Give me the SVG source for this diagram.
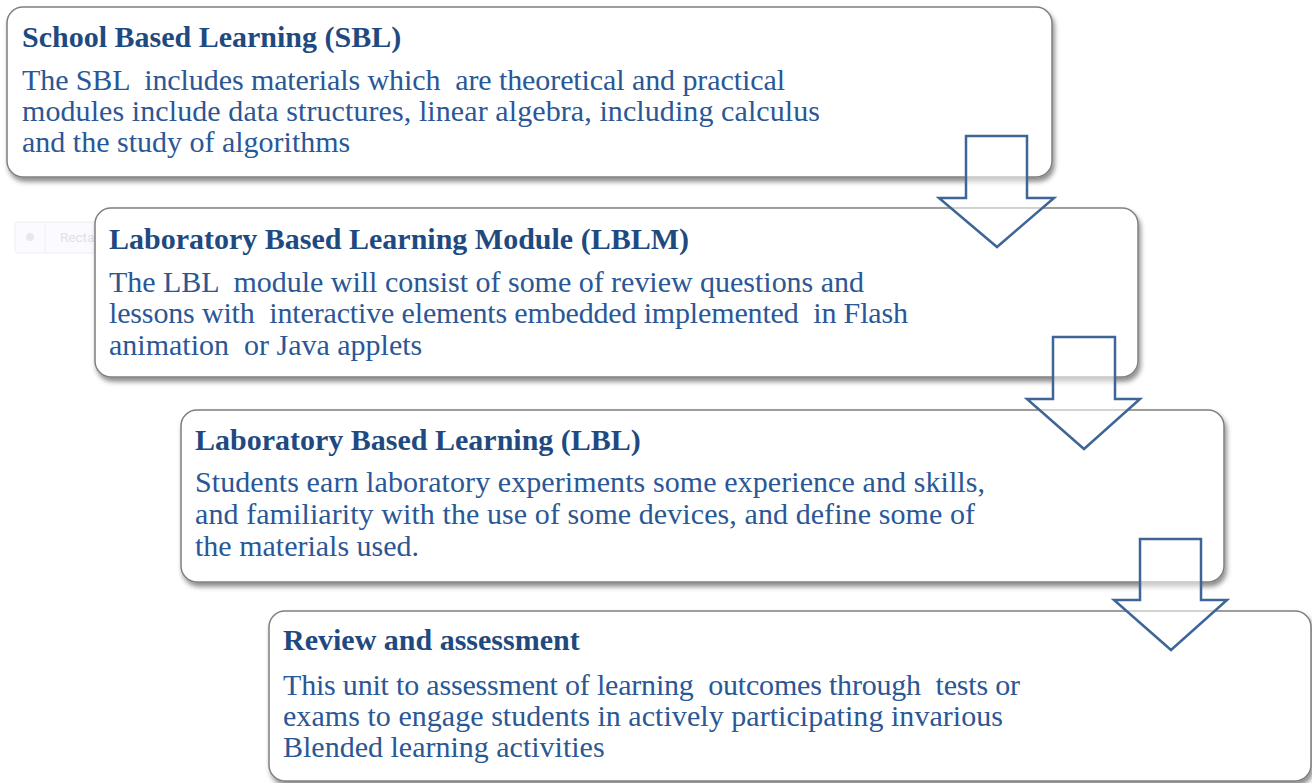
<svg xmlns="http://www.w3.org/2000/svg" width="1312" height="783" viewBox="0 0 1312 783">
<style>
.box{fill:#ffffff;stroke:#7f7f7f;stroke-width:1.5;filter:url(#sh)}
.t{font-family:"Liberation Serif","Times New Roman",serif;font-size:30px;font-weight:bold;fill:#1f4a80;white-space:pre}
.b{font-family:"Liberation Serif","Times New Roman",serif;font-size:30px;fill:#2a5796;white-space:pre}
.arr{fill:#ffffff;fill-opacity:0.55;stroke:#3d6597;stroke-width:2.5;stroke-linejoin:miter}
.ghost{fill:#fbfbff;stroke:#eceef6;stroke-width:1}
.gt{font-family:Roboto,"Liberation Sans",sans-serif;font-size:13.5px;fill:#e0e0e8}
</style>
<defs>
<filter id="sh" x="-5%" y="-10%" width="112%" height="130%">
<feDropShadow dx="2" dy="4" stdDeviation="2.5" flood-color="#000000" flood-opacity="0.45"/>
</filter>
</defs>
<rect width="1312" height="783" fill="#ffffff"/>
<g id="ghost">
<rect class="ghost" x="15" y="222" width="240" height="31" rx="3"/>
<circle cx="30" cy="237" r="4" fill="#e8e8ee"/>
<line x1="45" y1="223" x2="45" y2="252" stroke="#eef0f6"/>
<text class="gt" x="60" y="242">Rectan</text>
</g>
<g id="node-sbl">
<rect class="box" x="7" y="7" width="1045" height="170" rx="16"/>
<text class="t" x="22" y="47" xml:space="preserve">School Based Learning (SBL)</text>
<text class="b" x="22" y="90" xml:space="preserve" textLength="763" lengthAdjust="spacing">The SBL  includes materials which  are theoretical and practical</text>
<text class="b" x="22" y="121" xml:space="preserve" textLength="798" lengthAdjust="spacing">modules include data structures, linear algebra, including calculus</text>
<text class="b" x="22" y="152" xml:space="preserve">and the study of algorithms</text>
</g>
<g id="node-lblm">
<rect class="box" x="95" y="208" width="1043" height="169" rx="16"/>
<text class="t" x="109" y="249" xml:space="preserve">Laboratory Based Learning Module (LBLM)</text>
<text class="b" x="109" y="292" xml:space="preserve" textLength="755" lengthAdjust="spacing">The LBL  module will consist of some of review questions and</text>
<text class="b" x="109" y="323" xml:space="preserve" textLength="799" lengthAdjust="spacing">lessons with  interactive elements embedded implemented  in Flash</text>
<text class="b" x="109" y="355" xml:space="preserve">animation  or Java applets</text>
</g>
<g id="node-lbl">
<rect class="box" x="181" y="410" width="1043" height="172" rx="16"/>
<text class="t" x="195" y="450" xml:space="preserve">Laboratory Based Learning (LBL)</text>
<text class="b" x="195" y="492" xml:space="preserve" textLength="790" lengthAdjust="spacing">Students earn laboratory experiments some experience and skills,</text>
<text class="b" x="195" y="524" xml:space="preserve" textLength="780" lengthAdjust="spacing">and familiarity with the use of some devices, and define some of</text>
<text class="b" x="195" y="556" xml:space="preserve">the materials used.</text>
</g>
<g id="node-review">
<rect class="box" x="269" y="611" width="1042" height="170" rx="16"/>
<text class="t" x="283" y="650" xml:space="preserve">Review and assessment</text>
<text class="b" x="283" y="695" xml:space="preserve" textLength="737" lengthAdjust="spacing">This unit to assessment of learning  outcomes through  tests or</text>
<text class="b" x="283" y="726" xml:space="preserve" textLength="720" lengthAdjust="spacing">exams to engage students in actively participating invarious</text>
<text class="b" x="283" y="757" xml:space="preserve">Blended learning activities</text>
</g>
<g id="connectors">
<polygon class="arr" points="966,136 1027,136 1027,198 1054,198 997,247 939,198 966,198"/>
<polygon class="arr" points="1053,337 1115,337 1115,399 1140,399 1084,449 1027,399 1053,399"/>
<polygon class="arr" points="1140,539 1201,539 1201,600 1227,600 1171,650 1114,600 1140,600"/>
</g>
</svg>
